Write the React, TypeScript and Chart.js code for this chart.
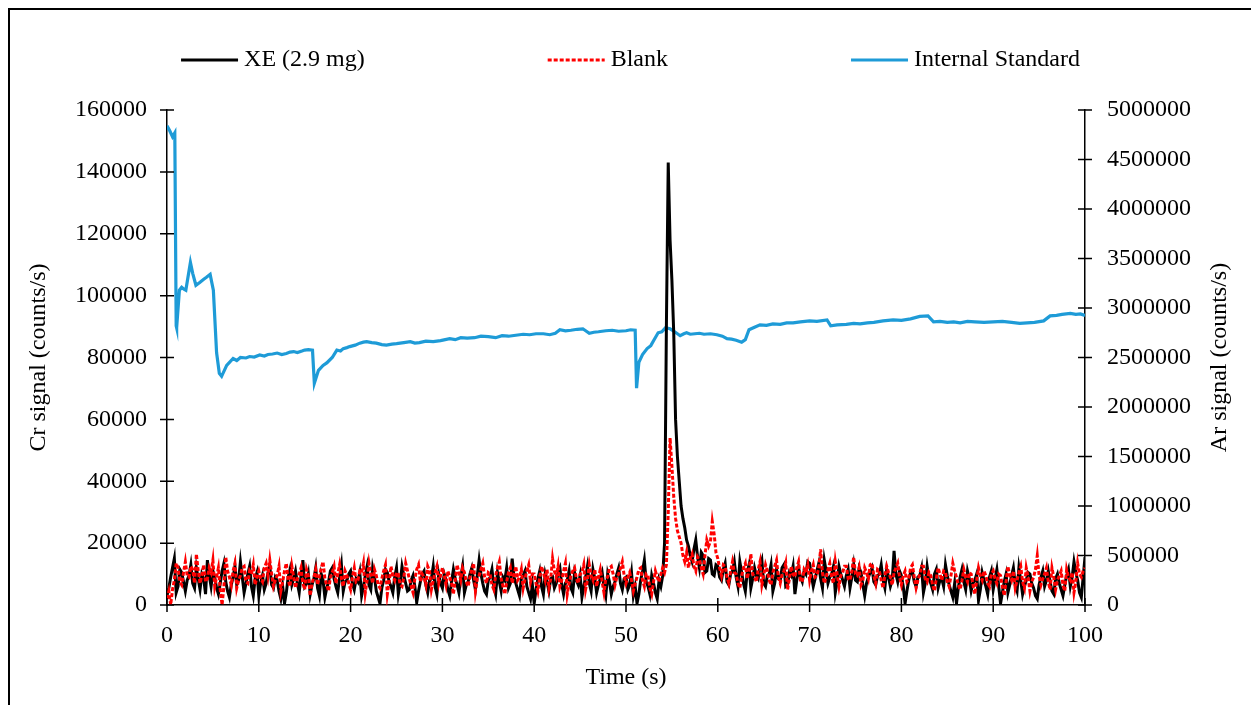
import React, { useEffect, useRef } from "react";
import { Chart, registerables } from "chart.js";

Chart.register(...registerables);

const FONT_FAMILY = "'Liberation Serif', 'Times New Roman', serif";
const FONT_SIZE = 24;

// Sampling interval (s) of the Cr traces
const SAMPLE_STEP = 0.2;

// XE (2.9 mg) Cr signal, counts/s, one value every 0.2 s from 0 to 100 s (one row = 10 s)
const xeSignal = [
  3000, 5500, 9000, 12000, 15000, 4000, 6000, 11500, 10500, 7500, 4500, 8000, 9500, 13000, 7000, 5500, 12000, 8500, 5000, 10000, 8500, 3500, 14500, 9500, 6000, 11000, 9000, 5500, 3500, 7000, 11000, 13500, 7500, 4500, 2500, 6500, 9000, 12500, 6500, 8000, 14000, 9000, 4000, 7000, 10000, 12500, 6000, 3000, 8500, 10500,
  3000, 7000, 9500, 5000, 7000, 10500, 12500, 6500, 5500, 9000, 8000, 4500, 2000, 6000, 500, 4000, 9000, 11500, 6500, 8500, 11000, 7000, 4000, 9500, 14500, 6000, 7000, 10000, 3500, 6500, 8500, 12000, 5500, 3000, 10000, 8000, 2500, 5500, 7500, 11000, 12000, 8500, 6000, 4000, 9000, 13000, 4500, 7500, 8000, 10000,
  11000, 7000, 5000, 8500, 7500, 10500, 3000, 6000, 9500, 12500, 6500, 5000, 12000, 9000, 4500, 2500, 500, 5500, 8000, 11500, 10500, 7500, 6000, 4000, 9000, 12000, 3500, 7000, 12500, 9500, 7000, 4500, 5000, 8000, 9500, 6000, 800, 4500, 7500, 10000, 11000, 6500, 4000, 8000, 8500, 12500, 6000, 3500, 10000, 7000,
  5500, 10000, 8000, 5000, 3000, 7500, 11500, 8500, 6500, 4000, 9000, 12500, 4000, 6500, 7500, 10000, 12000, 8000, 5000, 9500, 14500, 10000, 7000, 4500, 3500, 8000, 9000, 11500, 6000, 3500, 10500, 7500, 4500, 9000, 8000, 12000, 5500, 7000, 15000, 9000, 7000, 5000, 3000, 8500, 9500, 11000, 6000, 4000, 2000, 6500,
  500, 5000, 8500, 11000, 6000, 3500, 10000, 7500, 4500, 8500, 9000, 5500, 7000, 10500, 12000, 6500, 3500, 7000, 8000, 11000, 5500, 4000, 10500, 8000, 6500, 9500, 2500, 6000, 9000, 12500, 7000, 4500, 11500, 8500, 4000, 6500, 8500, 10500, 6000, 3000, 10000, 7500, 3500, 6000, 7500, 10000, 12000, 7000, 5000, 8500,
  9000, 5000, 6500, 10500, 3000, 6000, 500, 3500, 8000, 11000, 14500, 7500, 6000, 3500, 9500, 7000, 4000, 2000, 8000, 6000, 9500, 20000, 90000, 143000, 118000, 105000, 88000, 60000, 48000, 40000, 32000, 28000, 25000, 21000, 19000, 16000, 14000, 18000, 21000, 15500, 12000, 17000, 16000, 10500, 11000, 15000, 14500, 10000, 9500, 13000,
  12500, 9000, 8000, 11500, 13500, 7500, 6500, 10000, 11000, 14000, 9000, 6000, 14000, 10500, 7000, 4500, 10500, 13000, 5500, 8500, 12000, 9500, 8500, 12500, 14500, 7000, 6000, 9500, 10000, 13000, 4500, 7000, 11500, 8500, 8000, 12000, 13000, 6000, 6500, 10500, 9500, 12500, 3500, 8000, 12000, 9000, 7500, 11000, 10000, 14000,
  13500, 9500, 6000, 8500, 11000, 13500, 8500, 5500, 14500, 11000, 7000, 9000, 10000, 12500, 4000, 7500, 12500, 10000, 8000, 6000, 9500, 11500, 5500, 9000, 13000, 8000, 7500, 12000, 10500, 6500, 3000, 7000, 9000, 10500, 12000, 7500, 6500, 9500, 10000, 13000, 8000, 5500, 11500, 9000, 6000, 8000, 17500, 10000, 7500, 11000,
  9500, 6000, 500, 4500, 8000, 10500, 11000, 7500, 6000, 9000, 9500, 12000, 4000, 7000, 12500, 8500, 7000, 5000, 10000, 11500, 5500, 8000, 8500, 6000, 13000, 9500, 6500, 4500, 2500, 7000, 500, 5500, 9000, 11500, 7500, 5000, 11000, 8500, 4500, 7000, 8000, 10000, 1500, 5000, 10500, 8000, 6000, 3500, 9000, 11000,
  5000, 8500, 11500, 6000, 500, 4000, 7500, 10000, 4000, 6500, 9500, 12000, 6500, 4500, 12000, 8000, 3500, 6000, 8000, 10500, 10000, 7000, 5500, 3000, 2000, 6500, 9000, 11000, 6000, 8000, 11000, 7500, 4500, 3500, 8500, 10000, 7000, 5000, 3000, 6500, 9500, 11500, 6000, 9000, 14000, 10500, 8000, 4000, 2500, 9000, 15500,
];

// Blank Cr signal, counts/s, same sampling
const blankSignal = [
  2000, 4500, 0, 5000, 8000, 13500, 12000, 7500, 6500, 10500, 14000, 9500, 9000, 12500, 11500, 7000, 16500, 11000, 7000, 9500, 13000, 7500, 8500, 12000, 10500, 14500, 6000, 9000, 12000, 5000, 0, 6000, 15500, 11000, 9000, 6500, 11000, 13500, 5500, 8000, 9500, 12000, 12500, 7500, 7000, 11000, 10000, 13000, 6500, 9000,
  11000, 8500, 7500, 12000, 13500, 9500, 14500, 10000, 6000, 8000, 9500, 12500, 4500, 7500, 11000, 13500, 8000, 6000, 12500, 9000, 5500, 8500, 10000, 12000, 7000, 5000, 11500, 9500, 3000, 7000, 9000, 11500, 6500, 9000, 12000, 14000, 8500, 6500, 4500, 9000, 10500, 12500, 7000, 10000, 13000, 8500, 6000, 11000, 9500, 7000,
  5000, 9000, 12000, 7500, 8000, 11000, 10500, 13500, 4000, 8000, 13500, 10000, 7000, 11500, 9500, 6500, 5500, 8500, 11000, 13000, 3500, 7500, 12500, 9500, 8000, 10500, 10000, 6500, 6000, 9000, 13500, 11000, 8500, 6000, 4000, 8500, 11500, 13000, 7500, 10000, 9000, 6500, 12500, 11000, 5000, 8000, 10500, 12500, 7000, 9500,
  12000, 9500, 6500, 11000, 9000, 7000, 3500, 8000, 13000, 10500, 8000, 12000, 10500, 7500, 6000, 9000, 11500, 13500, 4500, 8500, 9500, 11500, 13500, 9000, 7000, 10500, 10000, 6500, 5000, 9500, 12000, 14000, 8500, 6000, 3500, 7500, 10500, 12000, 7000, 9500, 12500, 8000, 9000, 11500, 5500, 8500, 11000, 13000, 7500, 10000,
  10000, 7000, 4500, 9000, 12500, 10500, 8000, 11500, 5500, 8500, 15000, 11000, 9000, 12500, 6000, 8000, 11000, 13500, 3500, 7000, 9500, 11000, 12000, 8500, 7000, 10000, 10500, 13000, 5000, 8000, 13000, 9500, 8000, 11500, 6000, 9000, 11500, 7500, 4000, 8500, 9000, 12000, 12500, 10000, 6500, 9000, 10000, 12000, 14000, 9500,
  7000, 9000, 10500, 8000, 4500, 7000, 9000, 11500, 12000, 8000, 6000, 10000, 9500, 5500, 3500, 7500, 11000, 9000, 7500, 10000, 12000, 10500, 13000, 30000, 54000, 45000, 35000, 28000, 24000, 22000, 20000, 16000, 14000, 17000, 12000, 15000, 16500, 12500, 11000, 15500, 14500, 12000, 10000, 16000, 21000, 19000, 20500, 27000, 23000, 17000,
  15000, 12000, 9500, 13000, 12500, 9000, 7000, 11000, 14000, 10500, 10000, 7000, 5500, 9500, 12000, 13500, 8500, 11000, 16500, 10000, 9000, 7500, 11500, 14000, 6500, 9500, 13000, 11000, 8000, 6500, 10500, 12500, 14500, 9000, 7000, 10000, 11000, 13500, 5000, 8500, 12500, 10000, 9000, 12000, 14000, 8000, 7500, 11500, 10500, 13000,
  8000, 11000, 13000, 9000, 9500, 12000, 18000, 10500, 7000, 9000, 11500, 13500, 9000, 7000, 14000, 10000, 6000, 9500, 10500, 12500, 12500, 8500, 8000, 11000, 15500, 10000, 9500, 12000, 6500, 8000, 12000, 10500, 8500, 13000, 13500, 9500, 7000, 11500, 11000, 8000, 5500, 9500, 12500, 10500, 9000, 6500, 10500, 12000, 13500, 9000,
  6500, 9500, 11000, 7500, 8500, 12000, 13000, 9000, 5500, 8000, 10000, 12500, 12500, 8500, 7500, 10500, 9500, 6500, 4500, 8500, 12000, 10000, 8000, 11000, 10500, 7500, 6000, 9500, 13500, 11000, 9000, 6500, 5000, 8000, 11500, 9000, 7500, 10500, 10000, 6500, 3500, 8000, 12000, 9500, 8000, 11000, 9500, 7000, 6000, 10000,
  11000, 8500, 7000, 10000, 9500, 6000, 3000, 7500, 12500, 9500, 8000, 11000, 5500, 8000, 10500, 12500, 7500, 5500, 12000, 9000, 4500, 7500, 9000, 11500, 16000, 9500, 6500, 8500, 10000, 12000, 7500, 5000, 12000, 9000, 5000, 8000, 9500, 11000, 6500, 4500, 11500, 9000, 8000, 10500, 4000, 7500, 13500, 10000, 9000, 11000, 12000,
];

// Internal standard (Ar) signal: time (s) and counts/s
const isTime = [
  0, 0.3, 0.6, 0.85, 1.0, 1.05, 1.35, 1.6, 1.85, 2.05,
  2.55, 2.8, 3.15, 3.6, 4.0, 4.3, 4.7, 5.05, 5.4, 5.7,
  5.95, 6.5, 7.2, 7.6, 8.0, 8.6, 9.0, 9.5, 10.1, 10.6,
  11.0, 11.5, 12.0, 12.5, 13.0, 13.4, 13.8, 14.2, 14.7, 15.0,
  15.4, 15.85, 16.05, 16.5, 17.0, 17.4, 18.0, 18.5, 18.9, 19.2,
  19.6, 19.9, 20.5, 21.0, 21.4, 21.75, 22.3, 22.8, 23.4, 23.9,
  24.5, 25.0, 25.8, 26.5, 27.0, 27.5, 28.2, 29.0, 29.8, 30.8,
  31.4, 32.0, 32.7, 33.5, 34.2, 35.0, 35.8, 36.5, 37.2, 38.0,
  38.8, 39.5, 40.2, 41.0, 41.7, 42.3, 42.8, 43.4, 44.0, 44.7,
  45.3, 46.0, 46.5, 47.0, 47.8, 48.5, 49.2, 50.0, 50.5, 51.0,
  51.15, 51.4, 51.8, 52.3, 52.7, 53.0, 53.5, 53.9, 54.3, 54.8,
  55.3, 55.9, 56.3, 56.6, 57.0, 57.5, 58.0, 58.5, 59.2, 59.9,
  60.5, 61.0, 61.5, 62.0, 62.6, 63.0, 63.4, 64.0, 64.6, 65.3,
  66.0, 66.8, 67.5, 68.2, 69.0, 70.0, 70.8, 71.9, 72.3, 73.0,
  74.0, 74.8, 75.5, 76.3, 77.0, 78.0, 79.1, 80.0, 81.0, 82.0,
  82.9, 83.5, 84.2, 85.0, 85.7, 86.4, 87.2, 88.0, 89.0, 90.0,
  91.0, 92.0, 92.9, 93.7, 94.5, 95.5, 96.2, 96.9, 97.5, 98.4,
  99.0, 99.5, 100.0,
];
const isSignal = [
  4840000, 4790000, 4730000, 4770000, 2820000, 2800000, 3180000, 3210000, 3190000, 3180000,
  3460000, 3350000, 3230000, 3260000, 3290000, 3310000, 3340000, 3180000, 2550000, 2340000,
  2310000, 2420000, 2490000, 2470000, 2500000, 2495000, 2510000, 2505000, 2525000, 2515000,
  2530000, 2535000, 2545000, 2530000, 2540000, 2555000, 2560000, 2550000, 2565000, 2575000,
  2580000, 2575000, 2240000, 2370000, 2420000, 2445000, 2500000, 2575000, 2565000, 2590000,
  2600000, 2610000, 2625000, 2645000, 2655000, 2660000, 2650000, 2645000, 2630000, 2625000,
  2635000, 2640000, 2650000, 2660000, 2645000, 2650000, 2665000, 2660000, 2670000, 2690000,
  2680000, 2700000, 2695000, 2700000, 2715000, 2710000, 2700000, 2720000, 2715000, 2725000,
  2735000, 2730000, 2740000, 2740000, 2730000, 2745000, 2780000, 2770000, 2775000, 2785000,
  2790000, 2745000, 2755000, 2760000, 2770000, 2775000, 2765000, 2770000, 2780000, 2775000,
  2190000, 2450000, 2530000, 2590000, 2620000, 2670000, 2750000, 2760000, 2800000, 2790000,
  2760000, 2720000, 2740000, 2750000, 2735000, 2740000, 2745000, 2735000, 2740000, 2730000,
  2715000, 2690000, 2685000, 2675000, 2655000, 2680000, 2780000, 2805000, 2830000, 2825000,
  2840000, 2835000, 2850000, 2850000, 2860000, 2870000, 2865000, 2880000, 2820000, 2830000,
  2835000, 2845000, 2840000, 2850000, 2855000, 2870000, 2880000, 2875000, 2890000, 2915000,
  2920000, 2860000, 2865000, 2855000, 2860000, 2850000, 2865000, 2860000, 2855000, 2860000,
  2865000, 2855000, 2845000, 2850000, 2855000, 2870000, 2920000, 2925000, 2935000, 2945000,
  2935000, 2940000, 2925000,
];

const seriesLabels = ["XE (2.9 mg)", "Blank", "Internal Standard"];
const seriesColors = ["#000000", "#ff0000", "#1e9bd7"];

const xTitle = "Time (s)";
const yTitle = "Cr signal (counts/s)";
const y1Title = "Ar signal (counts/s)";

const crTime = xeSignal.map((_, i) => Math.round(i * SAMPLE_STEP * 10) / 10);

const font = { family: FONT_FAMILY, size: FONT_SIZE };

const crossTicks = {
  id: "crossTicks",
  afterDraw(chart: any) {
    const ctx = chart.ctx;
    const L = 7;
    const { x, y, y1 } = chart.scales;
    ctx.save();
    ctx.strokeStyle = "#000";
    ctx.lineWidth = 1.5;
    ctx.setLineDash([]);
    ctx.beginPath();
    x.ticks.forEach((t: any) => {
      const px = x.getPixelForValue(t.value);
      ctx.moveTo(px, x.top - L);
      ctx.lineTo(px, x.top + L);
    });
    y.ticks.forEach((t: any) => {
      const py = y.getPixelForValue(t.value);
      ctx.moveTo(y.right - L, py);
      ctx.lineTo(y.right + L, py);
    });
    y1.ticks.forEach((t: any) => {
      const py = y1.getPixelForValue(t.value);
      ctx.moveTo(y1.left - L, py);
      ctx.lineTo(y1.left + L, py);
    });
    ctx.stroke();
    ctx.restore();
  },
};

// Right-hand axis title, reading bottom-to-top like the left one
const rightTitle = {
  id: "rightTitle",
  afterDraw(chart: any) {
    const ctx = chart.ctx;
    const s = chart.scales.y1;
    const area = chart.chartArea;
    ctx.save();
    ctx.font = `${FONT_SIZE}px ${FONT_FAMILY}`;
    ctx.fillStyle = "#000";
    ctx.textAlign = "center";
    ctx.textBaseline = "middle";
    ctx.translate(s.right - 31, (area.top + area.bottom) / 2);
    ctx.rotate(-Math.PI / 2);
    ctx.fillText(y1Title, 0, 0);
    ctx.restore();
  },
};

const customLegend = {
  id: "customLegend",
  afterDraw(chart: any) {
    const ctx = chart.ctx;
    ctx.save();
    ctx.font = `${FONT_SIZE}px ${FONT_FAMILY}`;
    ctx.textBaseline = "middle";
    ctx.textAlign = "left";
    const items = chart.data.datasets.map((ds: any) => ({
      text: ds.label,
      color: ds.borderColor,
      dash: ds.borderDash || [],
      w: ctx.measureText(ds.label).width,
    }));
    const LINE = 57;
    const GAP = 6;
    const SEP = 183;
    const total =
      items.reduce((s: number, it: any) => s + LINE + GAP + it.w, 0) + SEP * (items.length - 1);
    let x = (chart.width - total) / 2;
    const yc = 50;
    items.forEach((it: any) => {
      ctx.strokeStyle = it.color;
      ctx.lineWidth = 3;
      ctx.setLineDash(it.dash);
      ctx.beginPath();
      ctx.moveTo(x, yc);
      ctx.lineTo(x + LINE, yc);
      ctx.stroke();
      ctx.setLineDash([]);
      ctx.fillStyle = "#000";
      ctx.fillText(it.text, x + LINE + GAP, yc);
      x += LINE + GAP + it.w + SEP;
    });
    ctx.restore();
  },
};

export default function App() {
  const ref = useRef<HTMLCanvasElement>(null);

  useEffect(() => {
    if (!ref.current) return;
    const chart = new Chart(ref.current, {
      type: "line",
      data: {
        datasets: [
          {
            label: seriesLabels[0],
            data: xeSignal.map((v, i) => ({ x: crTime[i], y: v })),
            borderColor: seriesColors[0],
            backgroundColor: seriesColors[0],
            borderWidth: 3,
            yAxisID: "y",
            order: 1,
          },
          {
            label: seriesLabels[1],
            data: blankSignal.map((v, i) => ({ x: crTime[i], y: v })),
            borderColor: seriesColors[1],
            backgroundColor: seriesColors[1],
            borderWidth: 3,
            borderDash: [4, 2],
            yAxisID: "y",
            order: 0,
          },
          {
            label: seriesLabels[2],
            data: isSignal.map((v, i) => ({ x: isTime[i], y: v })),
            borderColor: seriesColors[2],
            backgroundColor: seriesColors[2],
            borderWidth: 3.2,
            yAxisID: "y1",
            order: 2,
          },
        ],
      },
      options: {
        animation: false,
        responsive: false,
        maintainAspectRatio: false,
        layout: { padding: { top: 100, left: 0, right: 0, bottom: 0 } },
        elements: { point: { radius: 0 }, line: { tension: 0 } },
        plugins: { legend: { display: false }, tooltip: { enabled: false } },
        scales: {
          x: {
            type: "linear",
            min: 0,
            max: 100,
            ticks: {
              stepSize: 10,
              color: "#000",
              font,
              padding: 16,
              maxRotation: 0,
              callback: (v: any) => String(v),
            },
            grid: { display: false, drawTicks: false },
            border: { display: true, color: "#000", width: 1.5 },
            title: {
              display: true,
              text: xTitle,
              color: "#000",
              font,
              padding: { top: 0, bottom: 13 },
            },
            afterFit: (s: any) => {
              s.height = 100;
            },
          },
          y: {
            type: "linear",
            position: "left",
            min: 0,
            max: 160000,
            ticks: {
              stepSize: 20000,
              color: "#000",
              font,
              padding: 20,
              callback: (v: any) => String(v),
            },
            grid: { display: false, drawTicks: false },
            border: { display: true, color: "#000", width: 1.5 },
            title: {
              display: true,
              text: yTitle,
              color: "#000",
              font,
              padding: { top: 14, bottom: 0 },
            },
            afterFit: (s: any) => {
              s.width = 157;
            },
          },
          y1: {
            type: "linear",
            position: "right",
            min: 0,
            max: 5000000,
            ticks: {
              stepSize: 500000,
              color: "#000",
              font,
              padding: 22,
              callback: (v: any) => String(v),
            },
            grid: { display: false, drawTicks: false },
            border: { display: true, color: "#000", width: 1.5 },
            title: { display: false },
            afterFit: (s: any) => {
              s.width = 166;
            },
          },
        },
      },
      plugins: [crossTicks, rightTitle, customLegend],
    } as any);
    return () => chart.destroy();
  }, []);

  return (
    <div
      style={{
        position: "fixed",
        left: 8,
        top: 8,
        width: 1243,
        height: 697,
        boxSizing: "border-box",
        borderTop: "2px solid #000",
        borderLeft: "2px solid #000",
        background: "#fff",
      }}
    >
      <canvas ref={ref} width={1241} height={695} style={{ display: "block" }} />
    </div>
  );
}
